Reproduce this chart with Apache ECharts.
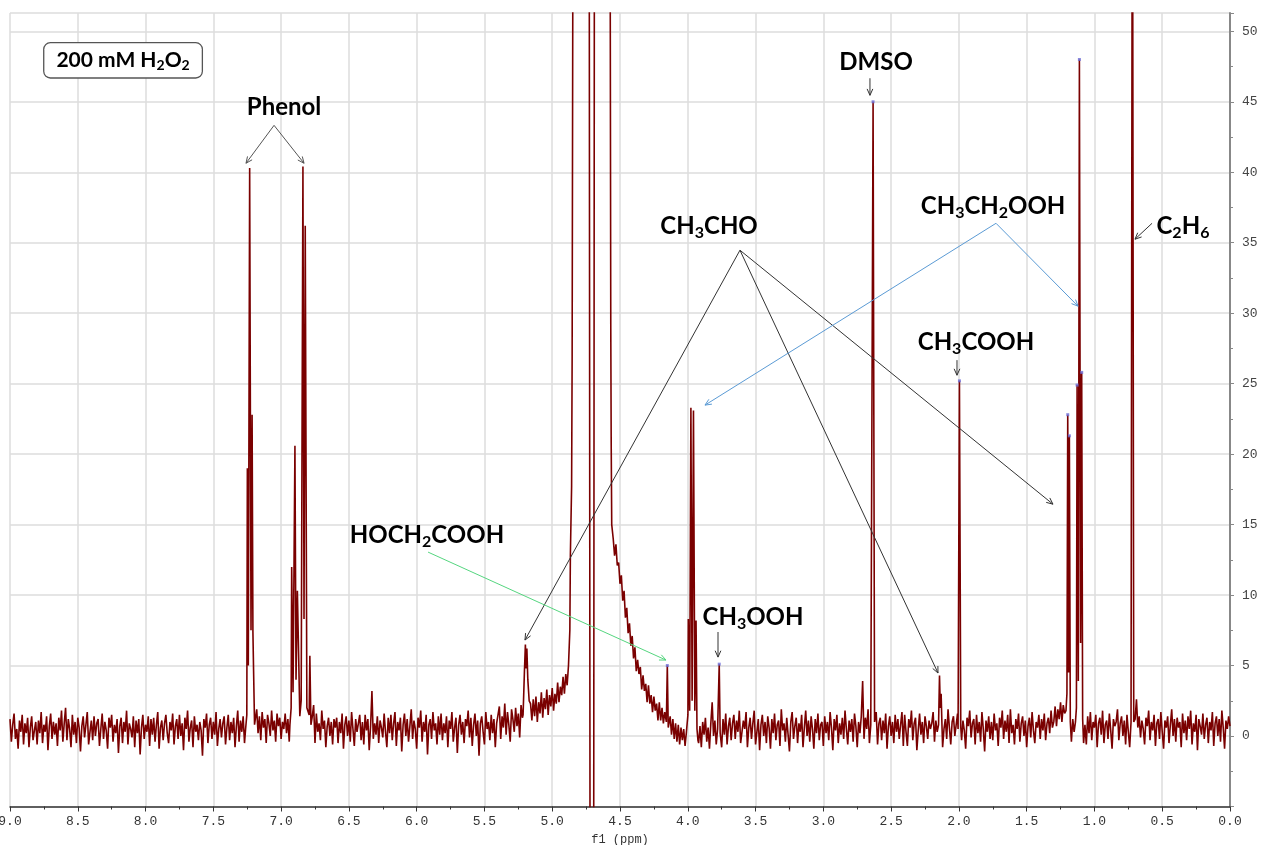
<!DOCTYPE html>
<html><head><meta charset="utf-8">
<script src="https://cdn.jsdelivr.net/npm/echarts@6/dist/echarts.min.js"></script>
<style>html,body{margin:0;padding:0;background:#fff}#c{width:1275px;height:845px}</style>
</head><body><div id="c"></div>
<script>
// ---- DATA ----
// uniform ppm grid: 9.00 -> 0.00, step 0.01 (values read/estimated from the picture)
const ppmStart = 9.0, ppmStep = 0.01;
const baseline = [
1.2,-0.4,0.8,1.6,-0.2,0.5,-0.9,1.1,0.3,1.5,-0.6,0.9,0.2,1.3,-0.8,0.6,1.4,-0.3,0.4,1.0,
-0.6,1.1,0.2,1.7,-0.5,0.8,0.3,1.4,-1.0,0.7,1.6,-0.2,1.0,0.1,0.9,-0.7,1.3,0.4,1.8,-0.4,
0.9,2.0,-0.3,1.2,0.5,-0.8,1.5,0.1,1.0,-0.5,1.3,0.6,-1.1,0.7,1.4,-0.1,0.8,1.7,-0.6,0.3,
1.1,-0.3,1.4,0.0,0.9,1.2,-0.7,0.5,1.6,-0.2,1.0,0.4,-0.9,1.3,0.6,1.5,-0.4,0.8,0.2,1.2,
-1.2,0.7,1.3,-0.5,1.0,0.3,1.8,-0.6,0.9,0.5,-0.1,1.4,-0.8,1.1,0.2,1.2,-1.3,0.6,1.5,-0.2,
0.8,0.3,1.4,-0.7,1.2,0.1,1.3,-0.4,0.8,1.7,-0.9,0.6,1.1,-0.3,0.9,1.5,0.2,-0.5,1.0,0.4,
1.6,-0.6,0.7,1.2,-0.2,1.5,0.0,0.9,-1.0,1.3,0.5,1.8,-0.4,0.6,1.1,-0.8,1.4,0.3,0.8,-0.3,
1.0,0.4,-1.4,1.2,0.6,1.6,-0.5,0.8,1.3,-0.2,1.0,0.1,1.7,-0.7,0.5,1.2,-0.1,0.9,1.4,-0.6,
0.6,1.5,-0.3,1.0,0.2,1.3,-0.8,0.7,1.8,-0.4,1.1,0.3,1.4,-0.5,0.6,0.6,0.6,0.6,0.6,0.6,
0.8,0.8,1.9,0.2,1.4,-0.3,1.7,0.6,1.2,-0.5,1.5,0.9,0.0,1.8,0.4,1.1,-0.4,1.6,0.7,1.3,
-0.2,1.0,0.5,1.6,0.2,1.2,-0.4,0.8,0.8,0.8,0.8,0.8,0.8,0.8,0.8,0.8,0.8,0.8,0.8,0.8,
0.8,0.8,0.8,1.4,2.2,-0.5,1.6,0.3,0.9,-0.3,1.8,0.5,1.1,-0.8,0.7,1.3,0.0,1.0,-0.6,1.2,
0.6,1.3,-0.5,1.0,0.2,1.6,-0.9,0.8,1.4,0.0,1.1,-0.4,1.7,0.5,-0.7,1.2,0.3,0.9,1.5,-0.3,
1.0,-0.6,1.5,0.4,1.2,-1.0,0.7,3.2,-0.2,0.9,0.1,1.4,-0.5,1.1,0.6,-0.1,1.6,0.3,-0.8,1.3,
0.2,1.5,-0.3,0.9,1.7,-0.7,1.0,0.4,1.3,-1.1,0.8,1.6,0.0,1.2,-0.4,0.7,1.9,-0.2,1.1,0.5,
-0.9,1.3,0.6,1.8,-0.4,1.0,0.3,1.5,-1.3,0.8,1.2,-0.2,1.7,0.4,0.9,-0.6,1.4,0.1,1.6,-0.3,
0.9,0.2,1.4,-0.8,1.1,0.5,1.7,-0.4,0.6,1.3,-1.2,0.8,1.5,0.1,1.0,-0.5,1.2,0.7,1.8,-0.1,
1.3,-0.7,0.8,1.6,0.0,1.1,-1.4,0.9,1.4,0.3,-0.6,1.7,0.5,1.0,-0.3,1.5,0.2,1.2,-0.8,0.9,
0.9,2.1,-0.2,1.4,0.6,2.3,0.1,1.7,0.8,-0.4,1.9,1.2,0.3,2.0,0.7,1.6,-0.1,2.2,1.3,1.5,
1.5,1.5,1.5,1.5,2.3,1.1,2.6,1.4,2.8,1.0,2.4,1.6,3.1,1.3,2.7,1.9,3.3,1.5,2.9,2.1,
3.4,1.8,3.0,2.3,3.8,2.4,3.5,2.9,4.2,3.0,4.4,3.6,5.0,7.5,8,8,8,8,8,8,
8,8,8,8,8,8,8,8,8,8,8,8,8,8,8,8,8,8,8,8,
8,8,8,8,8,14.0,12.8,13.6,12.1,12.3,10.8,11.4,9.6,10.3,8.4,9.1,7.3,8.0,6.4,7.1,
5.5,6.3,4.6,5.4,4.4,4.9,3.3,4.3,3.2,3.7,2.4,3.6,2.3,2.9,1.7,2.8,1.8,2.3,1.1,2.4,
1.1,2.0,0.9,1.7,1.0,1.0,0.6,1.4,0.1,1.2,-0.2,0.9,-0.4,0.8,-0.6,0.6,-0.3,0.5,-0.7,0.3,
0,0,0,0,0,0,0,0,-0.5,0.7,-0.8,1.0,0.1,1.3,-0.4,0.6,-0.9,0.9,2.4,0.0,
1.1,-0.6,0.5,0.3,0.3,-0.8,1.2,0.1,1.6,-0.6,0.7,1.3,-0.3,0.9,1.5,-0.2,1.1,0.3,1.8,-0.5,
-0.4,1.1,0.5,1.7,-0.8,0.6,1.3,-0.2,0.9,1.8,-0.6,0.3,1.2,-1.0,0.8,1.5,0.0,1.0,-0.5,1.4,
0.6,-0.9,1.2,0.2,1.6,-0.3,0.8,1.1,-0.7,1.9,0.4,0.9,-0.4,1.3,0.1,-1.1,1.0,1.7,-0.2,0.7,
1.3,-0.5,0.9,0.3,1.5,-0.8,0.6,1.8,0.0,1.1,-0.4,1.4,0.5,-0.9,1.2,0.2,1.6,-0.3,0.8,1.0,
-0.7,1.4,0.2,1.0,-0.3,1.7,0.6,-1.0,1.2,0.4,1.5,-0.5,0.9,0.1,1.3,-0.2,1.8,0.5,-0.6,1.1,
0.3,1.2,-0.4,1.6,0.7,-0.8,1.0,0.2,1.4,3.9,-0.2,1.3,0.5,1.9,-0.5,0.8,0.8,0.8,0.8,1.7,
-0.6,0.9,1.3,-0.3,1.1,0.2,1.6,-0.9,0.7,1.4,0.0,1.0,-0.5,1.5,0.3,1.2,-0.2,0.8,1.7,-0.7,
1.5,0.3,-0.7,1.2,0.6,1.8,-0.3,0.9,1.3,-1.0,0.4,1.6,0.1,1.0,-0.5,1.4,0.7,-0.2,1.1,0.5,
0.9,1.7,-0.4,1.1,0.3,1.0,1.0,1.0,-0.8,0.5,1.2,-0.2,1.9,0.6,-0.6,1.0,1.4,0.0,0.8,1.6,
1.0,1.0,-0.3,1.1,0.4,-0.9,1.3,0.7,1.8,-0.1,0.9,1.2,-0.6,1.5,0.2,1.0,-0.4,1.7,0.5,-1.1,
1.1,0.3,1.4,-0.2,1.0,-0.3,1.6,0.4,0.9,-0.7,1.3,0.6,1.8,-0.2,1.1,0.3,1.5,-0.5,1.9,0.2,
0.8,-0.6,1.2,0.5,1.6,-0.4,0.9,1.4,0.0,1.1,-0.8,0.7,1.3,-0.1,1.7,0.4,-0.5,1.0,0.6,1.5,
-0.2,1.2,0.4,1.6,-0.3,0.9,1.3,0.2,1.8,0.6,1.0,2.1,0.7,1.9,1.2,2.4,1.0,2.2,1.6,1.5,
1,1,1,-0.4,1.2,0.3,1,1,1,1,1,1,1,0.8,-0.6,1.4,0.2,1.7,-0.3,1.0,
0.6,1.5,-0.8,0.9,1.3,0.1,1.8,-0.5,0.8,1.1,-0.2,1.6,0.4,-0.9,1.2,0.7,1.0,1.9,-0.3,0.9,
1.4,0.0,1.1,-0.6,1.5,0.3,-0.8,1,1,1,1.2,2.6,0.6,1.4,-0.1,1.1,0.5,-0.6,1.3,0.7,
1.8,-0.3,1.0,0.4,1.5,-0.7,0.9,1.2,-0.2,1.7,0.3,-0.9,1.1,0.6,1.4,-0.5,0.8,1.9,0.0,1.2,
-0.4,1.3,0.6,1.0,-0.8,1.6,0.2,1.1,-0.3,1.4,0.5,1.8,-0.6,0.9,0.3,1.5,-1.0,1.2,0.7,0.1,
1.6,-0.2,0.8,1.3,-0.5,1.0,0.4,1.7,-0.7,0.9,1.4,0.0,1.2,-0.4,1.8,0.6,-0.9,1.1,0.5,1.4,
0.7
];
// peak clusters: [ppm, intensity]
const phenolA = [[7.262,0.5],[7.253,1.5],[7.249,19.0],[7.242,5.0],[7.232,40.3],[7.222,7.5],[7.214,22.8],[7.208,7.4],[7.203,4.6],[7.196,0.8]];
const phenolB = [[6.935,0.8],[6.926,2.0],[6.922,12.0],[6.912,3.1],[6.898,20.6],[6.890,4.0],[6.880,10.3],[6.862,1.4],[6.852,2.5],[6.839,40.4],[6.831,8.3],[6.822,36.2],[6.810,2.0],[6.793,1.5],[6.788,5.7],[6.780,0.8]];
const ch3choQ = [[5.215,1.5],[5.205,4.6],[5.198,6.5],[5.192,4.8],[5.187,6.2],[5.180,4.0],[5.170,2.5]];
const water = [[4.866,12.9],[4.857,17.7],[4.853,27.0],[4.845,70],[4.728,70],[4.720,-20],[4.695,-20],[4.688,70],[4.575,70],[4.568,28.9],[4.565,20.9],[4.561,15.0]];
const hoch2cooh = [[4.158,1.0],[4.151,5.0],[4.144,0.6]];
const ch3ch2oohQ = [[4.005,0.2],[3.999,1.5],[3.996,8.3],[3.986,1.8],[3.977,23.3],[3.968,2.5],[3.958,23.1],[3.948,1.8],[3.939,8.2],[3.932,0.5],[3.925,-0.3]];
const ch3ooh = [[3.775,0.4],[3.768,5.1],[3.761,0.2]];
const dmso = [[2.645,0.8],[2.633,45.0],[2.622,1.0]];
const ch3choD = [[2.150,0.8],[2.143,4.3],[2.137,2.0],[2.131,3.0],[2.124,0.5]];
const ch3cooh = [[2.006,0.5],[1.996,25.2],[1.986,0.6]];
const ch3choD2 = [[1.210,1.8],[1.203,3.0],[1.197,22.8],[1.191,4.5],[1.185,21.3],[1.178,1.0]];
const ch3ch2oohT = [[1.140,1.0],[1.133,2.0],[1.128,24.9],[1.119,3.9],[1.111,48.0],[1.102,6.6],[1.094,25.8],[1.087,1.2],[1.080,-0.5]];
const c2h6 = [[0.730,1.0],[0.720,70],[0.710,1.0]];
// picked peak tops (small blue marks)
const pickedPpm = [4.151,3.768,2.633,1.996,1.197,1.185,1.128,1.111,1.094];

// annotations (data coords: ppm, intensity)
const labels = [
  {t:'{m|200 mM H}{s|2}{m|O}{s|2}', at:[8.166,47.94], box:true},
  {t:'{m|Phenol}', at:[6.978,44.61]},
  {t:'{m|DMSO}', at:[2.611,47.80]},
  {t:'{m|CH}{s|3}{m|CHO}', at:[3.843,36.17]},
  {t:'{m|CH}{s|3}{m|CH}{s|2}{m|OOH}', at:[1.748,37.59]},
  {t:'{m|C}{s|2}{m|H}{s|6}', at:[0.347,36.17]},
  {t:'{m|CH}{s|3}{m|COOH}', at:[1.874,27.94]},
  {t:'{m|HOCH}{s|2}{m|COOH}', at:[5.924,14.26]},
  {t:'{m|CH}{s|3}{m|OOH}', at:[3.519,8.44]}
];
const arrows = [
  [[7.052,43.33],[7.259,40.64],'#555'],
  [[7.052,43.33],[6.831,40.64],'#555'],
  [[2.656,46.67],[2.656,45.46],'#333'],
  [[3.615,34.47],[5.201,6.81],'#333'],
  [[3.615,34.47],[2.154,4.47],'#333'],
  [[3.615,34.47],[1.306,16.45],'#333'],
  [[1.726,36.38],[3.873,23.48],'#5b9bd5'],
  [[1.726,36.38],[1.121,30.50],'#5b9bd5'],
  [[0.575,36.38],[0.701,35.25],'#333'],
  [[2.014,26.67],[2.014,25.60],'#333'],
  [[5.916,13.05],[4.161,5.39],'#55d67f'],
  [[3.777,7.38],[3.777,5.60],'#333']
];

// ---- BUILD ----
const clusters = [phenolA,phenolB,ch3choQ,water,hoch2cooh,ch3ch2oohQ,ch3ooh,dmso,ch3choD,ch3cooh,ch3choD2,ch3ch2oohT,c2h6];
const ranges = clusters.map(c=>{const xs=c.map(p=>p[0]);return [Math.min(...xs)-0.002, Math.max(...xs)+0.002];});
const grid = baseline.map((v,i)=>[+(ppmStart-i*ppmStep).toFixed(4), v]);
const kept = grid.filter(p=>!ranges.some(r=>p[0]>=r[0]&&p[0]<=r[1]));
const spectrum = kept.concat(...clusters).sort((a,b)=>b[0]-a[0]);
const allPeaks = [].concat(...clusters);
const picked = pickedPpm.map(x=>allPeaks.find(p=>Math.abs(p[0]-x)<1e-6));

const chart = echarts.init(document.getElementById('c'), null, {renderer:'canvas'});
const tickFont = {fontFamily:'Liberation Mono', fontSize:13, color:'#333'};
chart.setOption({
  animation:false,
  backgroundColor:'#fff',
  grid:{left:10,right:45,top:13,bottom:38.5,containLabel:false,outerBoundsMode:'none'},
  xAxis:{
    type:'value', inverse:true, min:0, max:9, interval:0.5,
    axisLine:{show:true,onZero:false,lineStyle:{color:'#333',width:1.5}},
    axisTick:{show:true,length:5,lineStyle:{color:'#333'}},
    minorTick:{show:true,splitNumber:2,length:3,lineStyle:{color:'#333'}},
    axisLabel:Object.assign({formatter:v=>v.toFixed(1),margin:9},tickFont),
    splitLine:{show:true,lineStyle:{color:'#dcdcdc',width:1.5}},
    name:'f1 (ppm)', nameLocation:'middle', nameGap:23,
    nameTextStyle:{fontFamily:'Liberation Mono',fontSize:12,color:'#333'}
  },
  yAxis:{
    type:'value', position:'right', offset:4, min:-5, max:51.3, interval:5,
    axisLine:{show:true,lineStyle:{color:'#888',width:2}},
    axisTick:{show:true,length:4,lineStyle:{color:'#888'}},
    minorTick:{show:true,splitNumber:2,length:3,lineStyle:{color:'#888'}},
    axisLabel:Object.assign({showMinLabel:false,showMaxLabel:false,margin:8},tickFont,{color:'#444'}),
    splitLine:{show:true,lineStyle:{color:'#dcdcdc',width:1.5}}
  },
  series:[
    {type:'line',data:spectrum,showSymbol:false,symbol:'none',clip:true,
     lineStyle:{color:'#7a0000',width:1.6},z:2},
    {type:'scatter',data:picked,symbol:'rect',symbolSize:[3,3],
     itemStyle:{color:'#6b6bd6'},z:3}
  ]
});

function px(p){return chart.convertToPixel({gridIndex:0},p);}
const els = [];
const rich = {
  m:{fontFamily:'Lato',fontWeight:'bold',fontSize:24,lineHeight:30,fill:'#000',color:'#000'},
  s:{fontFamily:'Lato',fontWeight:'bold',fontSize:16,fill:'#000',color:'#000',verticalAlign:'bottom'}
};
const richBox = {
  m:{fontFamily:'Lato',fontWeight:'bold',fontSize:21,lineHeight:24,fill:'#000',color:'#000'},
  s:{fontFamily:'Lato',fontWeight:'bold',fontSize:14,fill:'#000',color:'#000',verticalAlign:'bottom'}
};
labels.forEach(l=>{
  const [x,y]=px(l.at);
  const st = {text:l.t, x:x, y:y, rich:l.box?richBox:rich, align:'center', verticalAlign:'middle',
    textAlign:'center', textVerticalAlign:'middle', fill:'#000'};
  if(l.box){Object.assign(st,{backgroundColor:'#fff',borderColor:'#555',borderWidth:1.3,borderRadius:6,padding:[5,12,5,12]});}
  els.push({type:'text',style:st,z:100,silent:true});
});
arrows.forEach(a=>{
  const [x1,y1]=px(a[0]), [x2,y2]=px(a[1]);
  const ang=Math.atan2(y2-y1,x2-x1), len=7, s=0.42;
  els.push({type:'line',shape:{x1,y1,x2,y2},style:{stroke:a[2],lineWidth:1},z:99,silent:true});
  els.push({type:'polyline',shape:{points:[[x2-len*Math.cos(ang-s),y2-len*Math.sin(ang-s)],[x2,y2],[x2-len*Math.cos(ang+s),y2-len*Math.sin(ang+s)]]},
    style:{stroke:a[2],fill:null,lineWidth:1},z:99,silent:true});
});
chart.setOption({graphic:{elements:els}});
</script>
</body></html>
